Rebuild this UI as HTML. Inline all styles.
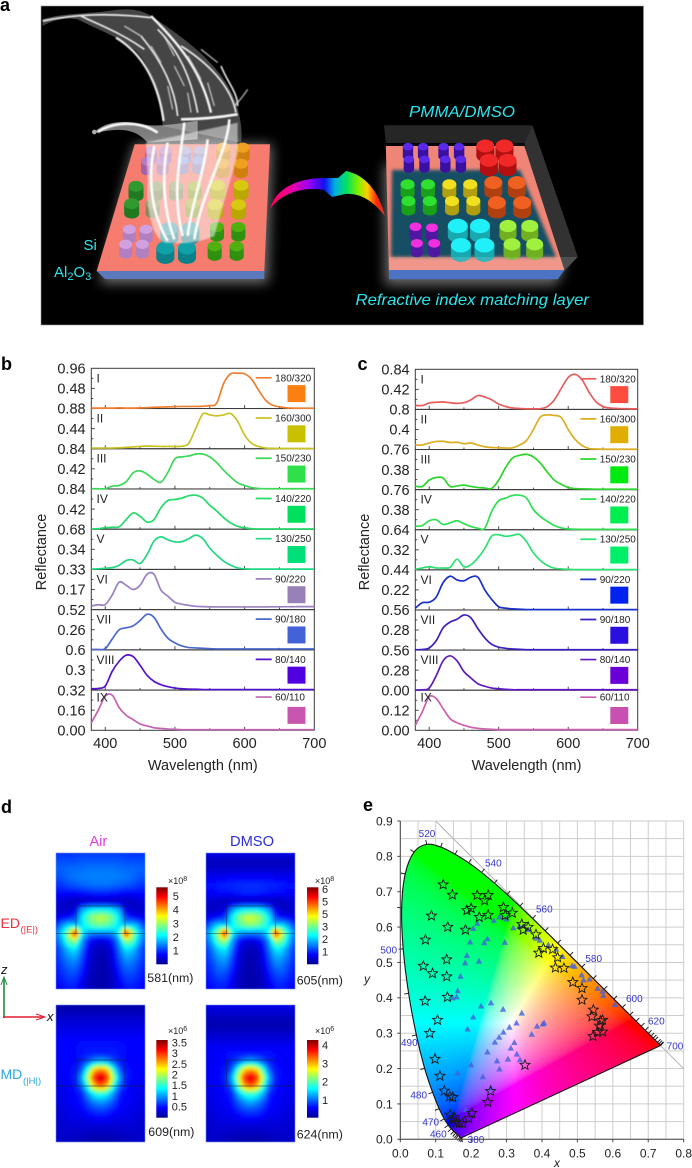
<!DOCTYPE html>
<html lang="en">
<head>
<meta charset="utf-8">
<title>Reflectance spectra, field maps and chromaticity diagram</title>
<style>
html,body{margin:0;padding:0;background:#fff;}
#figure{display:block;width:692px;height:1168px;font-family:"Liberation Sans",Arial,sans-serif;}
text{font-family:"Liberation Sans",Arial,sans-serif;}
</style>
</head>
<body>
<svg id="figure" xmlns="http://www.w3.org/2000/svg" width="692" height="1168" viewBox="0 0 692 1168">
<defs>
<filter id="blur2" x="-30%" y="-30%" width="160%" height="160%"><feGaussianBlur stdDeviation="2"/></filter>
<filter id="blur1" x="-30%" y="-30%" width="160%" height="160%"><feGaussianBlur stdDeviation="1.2"/></filter>
<filter id="blur6" x="-30%" y="-30%" width="160%" height="160%"><feGaussianBlur stdDeviation="6"/></filter>
<filter id="blurW" x="-30%" y="-30%" width="160%" height="160%"><feGaussianBlur stdDeviation="1.5"/></filter>
<filter id="heatBlur" x="-5%" y="-5%" width="110%" height="110%"><feGaussianBlur stdDeviation="1.6"/></filter>
<clipPath id="clipHeat1"><rect x="56" y="853" width="89" height="136"/></clipPath>
<clipPath id="clipHeat2"><rect x="206" y="853" width="89" height="136"/></clipPath>
<clipPath id="clipHeat3"><rect x="56" y="1005" width="89" height="137"/></clipPath>
<clipPath id="clipHeat4"><rect x="206" y="1005" width="89" height="137"/></clipPath>
<linearGradient id="arrowGrad" x1="270" y1="0" x2="386" y2="0" gradientUnits="userSpaceOnUse">
<stop offset="0" stop-color="#ff0050"/><stop offset=".18" stop-color="#f000a0"/><stop offset=".33" stop-color="#a000f0"/><stop offset=".47" stop-color="#1010f0"/><stop offset=".56" stop-color="#00b0e0"/><stop offset=".66" stop-color="#00e060"/><stop offset=".76" stop-color="#80f000"/><stop offset=".84" stop-color="#ffd000"/><stop offset=".92" stop-color="#ff2000"/><stop offset="1" stop-color="#c00000"/>
</linearGradient>
<linearGradient id="jetGrad" x1="0" y1="1" x2="0" y2="0">
<stop offset="0" stop-color="#00008f"/><stop offset=".125" stop-color="#0000ff"/><stop offset=".375" stop-color="#00ffff"/><stop offset=".625" stop-color="#ffff00"/><stop offset=".875" stop-color="#ff0000"/><stop offset="1" stop-color="#800000"/>
</linearGradient>
</defs>

<!-- PANEL A -->
<g id="panel-a">
<rect x="41" y="6" width="602.5" height="319" fill="#000" stroke="#999" stroke-width=".6"/>
<polygon points="134.7,144.3 272,144.3 268,283 100,283" fill="#fff" opacity=".45" filter="url(#blur6)"/>
<polygon points="134.7,144.3 270,144.3 264.3,271 96.7,271" fill="#f57c6e"/>
<polygon points="96.7,271 264.3,271 264.3,279 105,279" fill="#5d79bd"/>
<g id="left-pillars"></g>
<g transform="translate(41 6) scale(.33333)">
<path d="M5 40C60 22 120 25 200 15C260 5 300 10 330 30C420 90 540 170 585 290C600 340 605 380 600 410L365 360C360 280 340 200 290 140C250 100 180 75 110 40C70 32 30 45 5 60Z" fill="#8a8a8a" opacity=".5"/>
<path d="M160 378C190 350 240 340 300 355C360 365 420 350 470 345L470 400L320 410C290 375 250 360 160 382Z" fill="#c0c0c0" opacity=".65"/>
<path d="M315 410L590 350L590 440C570 520 540 620 520 690C480 710 420 715 370 710C330 690 315 600 320 520Z" fill="#fff" opacity=".5" filter="url(#blur2)"/>
<path d="M330 30C410 110 480 190 510 320" fill="none" stroke="#fff" stroke-width="7" opacity=".95" filter="url(#blur1)"/>
<path d="M225 95C300 140 350 220 368 345" fill="none" stroke="#fff" stroke-width="7" opacity=".9" filter="url(#blur1)"/>
<path d="M420 120C500 170 570 240 585 320M5 45C100 25 200 20 330 35M120 30C170 55 240 80 310 130M350 70C410 130 450 210 470 320M300 90C350 150 400 230 410 330M540 180C560 230 590 260 590 300" fill="none" stroke="#fff" stroke-width="5" opacity=".9" filter="url(#blur1)"/>
<path d="M420 340C500 340 560 330 590 325M170 378C220 345 300 345 350 380M430 350C420 450 390 560 425 690M565 340C560 440 480 560 460 700M340 420C320 520 330 620 380 705M500 400C490 500 450 600 440 690M380 410C360 520 370 620 400 700" fill="none" stroke="#fff" stroke-width="8" opacity=".95" filter="url(#blur1)"/>
<path d="M250 60L300 90M330 120L360 170M370 90L400 150M400 180L430 240M440 150L480 220M480 130L530 170M380 240L395 310M440 260L450 320M500 230L520 300M620 250C600 280 590 290 580 300" fill="none" stroke="#ddd" stroke-width="4" opacity=".8" filter="url(#blur1)"/>
<circle cx="160" cy="378" r="7" fill="#aaa"/>
</g>
<path d="M270 209C275 190 295 178 325 178L338 178L346 171C365 175 378 190 385 216C372 200 360 193 345 194L332 197L324 190C300 186 280 195 270 209Z" fill="url(#arrowGrad)"/>
<polygon points="384,165 524,150 564,270 555,285 385,285" fill="#fff" opacity=".42" filter="url(#blur6)"/>
<polygon points="384,125.3 532.4,125.3 524.4,143 385.8,143" fill="#262626"/>
<polygon points="532.4,125.3 577.8,256.7 557.8,279.3 524.4,143" fill="#323232"/>
<polygon points="385.8,146 524.4,146 564.4,270 388.9,270" fill="#ee8577"/>
<polygon points="392,170 520,170 556,257 391,257" fill="#155063" filter="url(#blurW)"/>
<polygon points="388.9,270 564.4,270 557.8,279.3 388.9,279.3" fill="#4d74c4"/>
<g id="right-pillars"></g>
<polygon points="389,257 577.8,257 564,270 389,270" fill="#fff" opacity=".14"/>
<text x="409" y="117" font-size="15.6" font-style="italic" fill="#2ce6ee" textLength="106" lengthAdjust="spacingAndGlyphs">PMMA/DMSO</text>
<text x="355.5" y="305" font-size="16" font-style="italic" fill="#2ce6ee" textLength="233.5" lengthAdjust="spacingAndGlyphs">Refractive index matching layer</text>
<text x="83.5" y="250" font-size="15" fill="#2ce6ee">Si</text>
<text x="54" y="277" font-size="15" fill="#2ce6ee">Al<tspan font-size="11" dy="3">2</tspan><tspan dy="-3">O</tspan><tspan font-size="11" dy="3">3</tspan></text>
</g>

<text x="0" y="11" font-size="18" font-weight="bold" fill="#000">a</text>
<text x="1" y="370" font-size="18" font-weight="bold" fill="#000">b</text>
<text x="357.5" y="370" font-size="18" font-weight="bold" fill="#000">c</text>
<text x="1" y="813" font-size="18" font-weight="bold" fill="#000">d</text>
<text x="363" y="811" font-size="18" font-weight="bold" fill="#000">e</text>

<g id="panel-b"></g>
<g id="panel-c"></g>

<!-- PANEL D -->
<g id="panel-d">
<text x="98.3" y="846" font-size="14.7" text-anchor="middle" fill="#e23fe0">Air</text>
<text x="252" y="846" font-size="14.7" text-anchor="middle" fill="#2d2dd6">DMSO</text>
<text x="0.5" y="928" font-size="14" fill="#e8323c">ED</text>
<text x="20.5" y="932.5" font-size="9.5" fill="#e8323c">(|E|)</text>
<text x="0.5" y="1079" font-size="14" fill="#2ba6e0">MD</text>
<text x="23" y="1084" font-size="9.5" fill="#2ba6e0">(|H|)</text>
<line x1="4" y1="1018" x2="4" y2="979" stroke="#1f8a3a" stroke-width="1.6"/>
<path d="M1 985L4 977L7 985" fill="none" stroke="#1f8a3a" stroke-width="1"/>
<line x1="3" y1="1017" x2="43" y2="1017" stroke="#e01f30" stroke-width="1.6"/>
<path d="M36 1014L45 1017L36 1020" fill="none" stroke="#e01f30" stroke-width="1"/>
<text x="1" y="974" font-size="13" font-style="italic" fill="#111">z</text>
<text x="47" y="1021" font-size="13" font-style="italic" fill="#111">x</text>
<g id="heatmaps"></g>
<g id="heat-overlays"></g>
<rect x="156.3" y="887.3" width="11.4" height="77" fill="url(#jetGrad)"/>
<rect x="307" y="887.3" width="11.4" height="77" fill="url(#jetGrad)"/>
<rect x="156.3" y="1040" width="11.4" height="77.7" fill="url(#jetGrad)"/>
<rect x="307" y="1040" width="11.4" height="77.7" fill="url(#jetGrad)"/>
<text x="168" y="884" font-size="9" fill="#222">×10<tspan font-size="7" dy="-3">8</tspan></text>
<text x="315" y="884" font-size="9" fill="#222">×10<tspan font-size="7" dy="-3">8</tspan></text>
<text x="168" y="1034" font-size="9" fill="#222">×10<tspan font-size="7" dy="-3">6</tspan></text>
<text x="315" y="1034" font-size="9" fill="#222">×10<tspan font-size="7" dy="-3">6</tspan></text>
<g id="colorbar-ticks"></g>
<text x="147.3" y="982" font-size="12.4" fill="#222">581(nm)</text>
<text x="296.7" y="984.3" font-size="12.4" fill="#222">605(nm)</text>
<text x="148.3" y="1136" font-size="12.4" fill="#222">609(nm)</text>
<text x="296.7" y="1138.6" font-size="12.4" fill="#222">624(nm)</text>
</g>

<!-- PANEL E -->
<g id="panel-e">
<g id="cie-grid"></g>
<foreignObject x="400" y="820" width="284" height="322"><canvas id="cie-canvas" width="284" height="322" style="display:block"></canvas></foreignObject>
<g id="cie-top"></g>
</g>
</svg>

<script>
// ---------- spectra data (reflectance per wavelength) ----------
const wavelengths = [380,390,400,410,420,430,440,450,460,470,480,490,500,510,520,530,540,550,560,570,580,590,600,610,620,630,640,650,660,670,680,690,700];
const legendLabels = ['180/320','160/300','150/230','140/220','130/250','90/220','90/180','80/140','60/110'];
const romanLabels = ['I','II','III','IV','V','VI','VII','VIII','IX'];
const xTickLabels = [400,500,600,700];

const airPanelMax = [0.96,0.88,0.84,0.84,0.68,0.33,0.52,0.60,0.32];
const airTickLabels = ['0.96','0.48','0.88','0.44','0.84','0.42','0.84','0.42','0.68','0.34','0.33','0.17','0.52','0.26','0.6','0.3','0.32','0.16','0.00'];
const airI    = [.01,.01,.01,.01,.015,.01,.01,.015,.02,.03,.035,.04,.045,.05,.05,.05,.055,.07,.13,.6,.83,.84,.83,.7,.44,.2,.08,.04,.015,.01,.008,.008,.008];
const airII   = [.015,.015,.015,.015,.02,.03,.04,.05,.06,.055,.05,.05,.05,.055,.12,.45,.76,.74,.72,.74,.77,.6,.3,.12,.05,.015,.01,.005,.005,.005,.005,.005,.005];
const airIII  = [.005,.005,.005,.06,.075,.15,.336,.378,.31,.2,.14,.35,.63,.67,.69,.73,.73,.67,.55,.39,.25,.13,.07,.03,.01,.005,.005,.005,.005,.005,.005,.005,.005];
const airIV   = [.005,.01,.03,.04,.05,.2,.34,.27,.15,.2,.45,.6,.62,.65,.7,.71,.65,.5,.38,.24,.13,.06,.03,.01,.005,.005,.005,.005,.005,.005,.005,.005,.005];
const airV    = [.005,.01,.02,.03,.07,.15,.16,.1,.25,.48,.55,.5,.465,.47,.52,.58,.52,.36,.24,.14,.07,.025,.01,.005,.005,.005,.005,.005,.005,.005,.005,.005,.005];
const airVI   = [.03,.04,.042,.12,.225,.2,.165,.2,.29,.29,.16,.11,.06,.045,.035,.027,.025,.023,.022,.022,.022,.022,.022,.022,.022,.022,.023,.023,.024,.024,.025,.025,.025];
const airVII  = [.005,.005,.015,.14,.26,.285,.31,.38,.46,.42,.27,.15,.09,.05,.03,.025,.02,.015,.012,.012,.012,.012,.012,.012,.012,.012,.012,.012,.012,.012,.012,.012,.012];
const airVIII = [.02,.025,.06,.28,.43,.52,.5,.37,.22,.13,.08,.05,.03,.02,.015,.012,.008,.008,.008,.008,.008,.008,.008,.008,.008,.008,.008,.008,.008,.008,.008,.008,.008];
const airIX   = [.06,.16,.27,.28,.18,.12,.085,.05,.035,.02,.015,.01,.008,.005,.005,.005,.005,.005,.005,.005,.005,.005,.005,.005,.005,.005,.005,.005,.005,.005,.005,.005,.005];

const dmsoPanelMax = [0.84,0.80,0.76,0.76,0.64,0.44,0.56,0.56,0.24];
const dmsoTickLabels = ['0.84','0.42','0.8','0.4','0.76','0.38','0.76','0.38','0.64','0.32','0.44','0.22','0.56','0.28','0.56','0.28','0.00','0.12','0.00'];
const dmsoI    = [.085,.08,.135,.15,.155,.14,.125,.14,.2,.29,.26,.2,.11,.06,.03,.02,.012,.012,.015,.06,.2,.44,.67,.735,.62,.36,.16,.06,.03,.02,.015,.012,.012];
const dmsoII   = [.09,.09,.13,.16,.165,.14,.145,.115,.13,.09,.055,.04,.035,.03,.035,.09,.18,.4,.65,.69,.68,.64,.4,.2,.08,.02,.01,.005,.005,.005,.005,.005,.005];
const dmsoIII  = [.065,.06,.18,.23,.22,.06,.07,.085,.06,.04,.03,.025,.18,.42,.6,.65,.67,.62,.5,.33,.18,.1,.04,.02,.015,.012,.008,.008,.008,.008,.008,.008,.008];
const dmsoIV   = [.065,.08,.17,.19,.1,.13,.17,.115,.06,.03,.03,.35,.55,.6,.65,.655,.6,.38,.25,.16,.08,.035,.015,.01,.008,.008,.008,.008,.008,.008,.008,.008,.008];
const dmsoV    = [.01,.03,.05,.03,.03,.04,.17,.05,.08,.19,.34,.54,.56,.535,.55,.565,.45,.27,.15,.07,.027,.015,.008,.005,.005,.005,.005,.005,.005,.005,.005,.005,.005];
const dmsoVI   = [.02,.08,.085,.14,.3,.37,.33,.32,.36,.36,.22,.115,.035,.02,.012,.008,.004,.004,.004,.004,.004,.004,.004,.004,.004,.004,.004,.004,.004,.004,.004,.004,.004];
const dmsoVII  = [.005,.008,.03,.13,.31,.39,.43,.49,.45,.3,.17,.08,.04,.025,.015,.01,.005,.005,.005,.005,.005,.005,.005,.005,.005,.005,.005,.005,.005,.005,.005,.005,.005];
const dmsoVIII = [.003,.005,.03,.2,.41,.48,.41,.26,.17,.09,.055,.03,.02,.012,.006,.006,.006,.006,.006,.006,.006,.006,.006,.006,.006,.006,.006,.006,.006,.006,.006,.006,.006];
const dmsoIX   = [.03,.11,.2,.19,.13,.07,.045,.03,.018,.012,.008,.006,.004,.004,.004,.004,.004,.004,.004,.004,.004,.004,.004,.004,.004,.004,.004,.004,.004,.004,.004,.004,.004];

const airColors  = ['#ee7f30','#c8c224','#3cd85a','#25d96a','#1fd982','#9a80bf','#4b68cc','#5312cf','#c262b0'];
const airSwatch  = ['#fc7f12','#c8c000','#2ee14b','#00e05d','#00e079','#9880b8','#4462d8','#5000e0','#c855b0'];
const dmsoColors = ['#e85c5c','#dcae22','#2cd42c','#2ce052','#2ce072','#1a30c8','#3a20c0','#6018c0','#cc60b0'];
const dmsoSwatch = ['#ff4c40','#dfae00','#00ea10','#00ee50','#00ee68','#0022ee','#2a10e0','#6a00d8','#c850b0'];

// ---------- field maps: half-width grids, edge to centre, top to bottom ----------
const fieldEdAir = [
[.17,.17,.17,.18,.18,.18,.18,.18],[.2,.2,.2,.2,.21,.21,.21,.21],[.22,.22,.23,.23,.23,.24,.24,.24],[.2,.21,.23,.24,.25,.25,.25,.25],
[.17,.18,.2,.21,.22,.23,.24,.24],[.13,.13,.13,.13,.14,.15,.16,.16],[.09,.08,.06,.05,.05,.05,.05,.05],[.07,.06,.06,.09,.27,.33,.36,.36],
[.09,.11,.13,.18,.35,.47,.54,.57],[.17,.27,.33,.3,.34,.42,.47,.49],[.24,.36,.55,.95,.4,.28,.26,.26],[.2,.31,.47,.52,.3,.16,.1,.08],
[.17,.24,.33,.36,.25,.12,.06,.05],[.16,.22,.27,.29,.21,.1,.05,.04],[.15,.19,.23,.24,.18,.09,.05,.03],[.14,.17,.2,.2,.15,.07,.04,.03],
[.13,.15,.17,.17,.12,.06,.04,.03],[.12,.13,.15,.14,.1,.06,.04,.03]];
const fieldEdDmso = [
[.1,.1,.1,.1,.1,.1,.1,.1],[.05,.05,.05,.05,.05,.05,.05,.05],[.07,.07,.07,.07,.07,.07,.07,.07],[.11,.11,.11,.11,.12,.12,.12,.12],
[.14,.14,.15,.16,.16,.17,.17,.17],[.12,.12,.13,.13,.14,.15,.16,.16],[.08,.07,.06,.05,.05,.05,.05,.05],[.07,.06,.06,.09,.25,.32,.36,.36],
[.09,.11,.13,.18,.36,.48,.56,.59],[.17,.27,.34,.31,.35,.44,.49,.52],[.24,.37,.56,.95,.41,.29,.26,.26],[.2,.32,.48,.53,.3,.16,.1,.08],
[.17,.25,.34,.37,.25,.12,.06,.05],[.16,.22,.28,.3,.21,.1,.05,.04],[.15,.19,.24,.25,.18,.09,.05,.03],[.14,.17,.21,.2,.15,.07,.04,.03],
[.13,.15,.17,.17,.12,.06,.04,.03],[.12,.13,.15,.14,.1,.06,.04,.03]];
const fieldMdAir = [
[.03,.03,.03,.03,.03,.03,.03,.03],[.05,.05,.05,.05,.05,.05,.05,.05],[.08,.08,.08,.08,.08,.08,.08,.08],[.1,.1,.1,.1,.1,.1,.1,.1],
[.12,.12,.12,.12,.12,.12,.12,.12],[.13,.13,.13,.13,.14,.14,.14,.14],[.13,.13,.13,.13,.14,.15,.15,.15],[.12,.12,.12,.13,.15,.2,.27,.3],
[.12,.12,.13,.14,.2,.42,.68,.75],[.11,.12,.13,.15,.28,.55,.85,.95],[.11,.11,.12,.14,.22,.42,.7,.8],[.1,.1,.11,.13,.15,.28,.38,.42],
[.09,.1,.11,.12,.14,.2,.26,.28],[.08,.09,.1,.11,.12,.15,.18,.19],[.07,.08,.09,.1,.1,.11,.12,.13],[.07,.07,.08,.08,.08,.08,.08,.08],
[.07,.07,.07,.06,.06,.05,.05,.05],[.07,.06,.06,.05,.05,.04,.03,.03]];
const fieldMdDmso = [
[.1,.1,.1,.1,.1,.1,.1,.1],[.07,.07,.07,.07,.07,.07,.07,.07],[.04,.04,.04,.04,.04,.04,.04,.04],[.05,.05,.05,.05,.05,.05,.05,.05],
[.08,.08,.08,.08,.08,.08,.08,.08],[.11,.11,.11,.11,.11,.11,.11,.11],[.12,.12,.12,.13,.14,.14,.14,.14],[.11,.11,.12,.13,.15,.2,.26,.3],
[.11,.11,.13,.14,.2,.42,.66,.72],[.11,.12,.13,.15,.28,.55,.84,.93],[.1,.11,.12,.14,.22,.44,.72,.8],[.1,.1,.11,.13,.15,.3,.4,.44],
[.09,.1,.11,.12,.14,.21,.27,.3],[.08,.09,.1,.11,.12,.16,.19,.2],[.07,.08,.09,.1,.1,.11,.13,.13],[.07,.07,.08,.08,.08,.08,.08,.08],
[.07,.07,.07,.06,.06,.05,.05,.05],[.07,.06,.06,.05,.05,.04,.03,.03]];
const colorbarEdAirLabels  = ['5','4','3','2','1'];
const colorbarEdDmsoLabels = ['6','5','5','3','2','1'];
const colorbarMdAirLabels  = ['3.5','3','2.5','2','1.5','1','0.5'];
const colorbarMdDmsoLabels = ['4','3','2','1'];

// ---------- CIE chart data ----------
const locusX = [.1741,.1733,.1726,.1714,.1689,.1644,.1611,.1566,.1510,.1440,.1355,.1241,.1096,.0913,.0687,.0454,.0235,.0082,.0039,.0139,.0389,.0743,.1142,.1547,.1929,.2296,.2658,.3016,.3373,.3731,.4087,.4441,.4788,.5125,.5448,.5752,.6029,.6270,.6482,.6658,.6801,.6915,.7006,.7079,.7140,.7190,.7260,.7300,.7334,.7347,.7347];
const locusY = [.0050,.0048,.0048,.0051,.0069,.0109,.0138,.0177,.0227,.0297,.0399,.0578,.0868,.1327,.2007,.2950,.4127,.5384,.6548,.7502,.8120,.8338,.8262,.8059,.7816,.7543,.7243,.6923,.6589,.6245,.5896,.5547,.5202,.4866,.4544,.4242,.3965,.3725,.3514,.3340,.3197,.3083,.2993,.2920,.2859,.2809,.2740,.2700,.2666,.2653,.2653];
const starX = [.121,.147,.088,.134,.071,.065,.131,.091,.131,.133,.07,.105,.083,.098,.112,.124,.14,.148,.141,.152,.148,.157,.167,.176,.193,.202,.247,.255,.352,.188,.2,.217,.238,.248,.223,.248,.184,.291,.296,.316,.343,.347,.361,.383,.391,.404,.43,.444,.438,.462,.487,.513,.513,.545,.541,.571,.565,.562,.557,.571,.544];
const starY = [.72,.691,.632,.6,.564,.49,.508,.469,.46,.402,.391,.337,.3,.227,.179,.137,.121,.119,.069,.062,.055,.047,.045,.045,.059,.074,.105,.136,.21,.647,.653,.69,.675,.69,.628,.634,.592,.656,.633,.64,.608,.592,.6,.579,.527,.54,.537,.514,.485,.484,.444,.427,.394,.366,.347,.337,.335,.321,.303,.304,.291];
const triangleX = [.206,.217,.264,.28,.299,.319,.336,.361,.197,.237,.246,.295,.188,.183,.222,.17,.162,.159,.148,.228,.256,.29,.343,.206,.19,.328,.308,.291,.279,.267,.406,.402,.386,.371,.322,.312,.246,.273,.304,.329,.338,.2,.28,.233,.162,.256,.185,.383,.394,.418,.44,.458,.485,.492,.512,.517,.534,.557,.571,.573,.606];
const triangleY = [.595,.61,.618,.628,.622,.597,.601,.592,.557,.555,.566,.556,.519,.498,.503,.46,.419,.402,.399,.376,.385,.367,.356,.345,.311,.328,.316,.302,.288,.274,.328,.325,.319,.296,.273,.257,.246,.221,.226,.24,.224,.21,.198,.176,.187,.144,.083,.568,.562,.549,.537,.516,.49,.488,.464,.45,.452,.426,.418,.406,.38];
const cieXTicks = ['0.0','0.1','0.2','0.3','0.4','0.5','0.6','0.7','0.8'];
const cieYTicks = ['0.0','0.1','0.2','0.3','0.4','0.5','0.6','0.7','0.8','0.9'];
const wavelengthNames = ['520','540','560','580','600','620','700','500','490','480','470','460','380'];

// ---------- helpers ----------
const NS = 'http://www.w3.org/2000/svg';
function mk(tag, parent, attrs) {
  const e = document.createElementNS(NS, tag);
  for (const k in attrs) e.setAttribute(k, attrs[k]);
  parent.appendChild(e);
  return e;
}
function label(parent, x, y, str, size, anchor, fill) {
  const t = mk('text', parent, {x: x, y: y, 'font-size': size, 'text-anchor': anchor, fill: fill});
  t.textContent = str;
  return t;
}
function smoothPath(xs, ys) {
  let d = 'M' + xs[0].toFixed(2) + ' ' + ys[0].toFixed(2);
  for (let i = 0; i < xs.length - 1; i++) {
    const a = Math.max(i - 1, 0), b = Math.min(i + 2, xs.length - 1);
    const c1x = xs[i] + (xs[i + 1] - xs[a]) / 6, c1y = ys[i] + (ys[i + 1] - ys[a]) / 6;
    const c2x = xs[i + 1] - (xs[b] - xs[i]) / 6, c2y = ys[i + 1] - (ys[b] - ys[i]) / 6;
    d += 'C' + c1x.toFixed(2) + ' ' + c1y.toFixed(2) + ' ' + c2x.toFixed(2) + ' ' + c2y.toFixed(2) + ' ' + xs[i + 1].toFixed(2) + ' ' + ys[i + 1].toFixed(2);
  }
  return d;
}

// ---------- illustration pillars ----------
function pillar(parent, x, y, rx, col, dark, op) {
  const g = mk('g', parent, {opacity: op});
  
  
  mk('rect', g, {x: x - rx, y: y - 4, width: 2 * rx, height: 10, fill: dark});
  mk('ellipse', g, {cx: x, cy: y + 6, rx: rx, ry: rx * .65, fill: dark});
  mk('ellipse', g, {cx: x, cy: y - 4, rx: rx, ry: rx * .72, fill: col});
}
const leftGroup = document.getElementById('left-pillars');
const leftSets = [
 [[[330,445],[373,445],[318,478],[365,478]], 6, '#a878d8', '#8858b8', .75],
 [[[432,445],[475,445],[425,475],[472,475]], 6, '#9ab0f0', '#7088d0', .75],
 [[[547,437],[605,437],[545,485],[600,485]], 7, '#f0a020', '#d08010', 1],
 [[[285,553],[272,605]], 7.5, '#2f9a30', '#1f7a22', 1],
 [[[345,553],[335,605],[405,553]], 7, '#58b060', '#3f9048', .6],
 [[[462,552],[455,605]], 7, '#a0c030', '#80a020', .85],
 [[[530,550],[600,550],[523,608],[593,608]], 7.5, '#d8c810', '#b8a800', 1],
 [[[265,682],[315,682],[254,727],[304,727]], 6.5, '#d0a0e0', '#b080c0', 1],
 [[[385,680],[448,680]], 9, '#30a8b0', '#1a8890', .9],
 [[[373,738],[438,738]], 9, '#10a0a8', '#0a8088', 1],
 [[[528,675],[592,675],[521,733],[587,733]], 7, '#50b010', '#309010', 1]
];
leftSets.forEach(function (s) {
  s[0].forEach(function (p) { pillar(leftGroup, 41 + p[0] / 3, 6 + p[1] / 3, s[1], s[2], s[3], s[4]); });
});
const rightGroup = document.getElementById('right-pillars');
const rightSets = [
 [[[918,452],[952,452],[998,452],[1033,452],[920,490],[955,490],[1002,490],[1037,490]], 5.2, '#5a28e8', '#3a10a0'],
 [[[1092,450],[1135,450],[1100,493],[1142,493]], 9, '#f02828', '#b01010'],
 [[[917,565],[963,565],[919,615],[967,615]], 7, '#30e030', '#18a018'],
 [[[1011,565],[1058,565],[1017,615],[1065,615]], 7, '#f0e020', '#b0a010'],
 [[[1110,560],[1163,560],[1118,620],[1175,620]], 9, '#f06020', '#b04010'],
 [[[935,692],[972,695],[938,742],[977,742]], 6, '#f030e0', '#5018a0'],
 [[[1030,690],[1080,690],[1037,748],[1090,748]], 10, '#20f0f8', '#18a8b0'],
 [[[1143,690],[1192,690],[1152,745],[1203,745]], 8.5, '#a0f040', '#70b020']
];
rightSets.forEach(function (s) {
  s[0].forEach(function (p) { pillar(rightGroup, p[0] / 2.25, p[1] / 3, s[1], s[2], s[3], 1); });
});

// ---------- stacked spectra ----------
function drawSpectra(root, opts) {
  const xScale = function (nm) { return opts.left + (nm - 380) * (opts.right - opts.left) / 320; };
  const h = (730.3 - opts.top) / 9;
  const panelTop = function (i) { return opts.top + i * h; };
  const yScale = function (v, i) { return panelTop(i + 1) - v / opts.max[i] * h; };
  const frameColor = '#3a3a3a';

  for (let i = 0; i < 9; i++) {
    const top = panelTop(i), bottom = panelTop(i + 1);
    const frame = mk('rect', root, {x: opts.left, y: top, width: opts.right - opts.left, height: h, fill: 'none', stroke: frameColor, 'stroke-width': 1});
    
    
    for (let nm = 400; nm <= 650; nm += 50) {
      const major = nm % 100 === 0;
      const tick = mk('line', root, {x1: xScale(nm), x2: xScale(nm), y1: bottom, y2: bottom - (major ? 3.5 : 2), stroke: frameColor, 'stroke-width': .9});
      
      
    }
    for (let q = 1; q < 4; q++) {
      const major = q === 2;
      const tick = mk('line', root, {x1: opts.left, x2: opts.left + (major ? 3.5 : 2), y1: top + q * h / 4, y2: top + q * h / 4, stroke: frameColor, 'stroke-width': .9});
      
      
    }
  }
  opts.ticks.forEach(function (str, k) {
    const t = label(root, opts.left - 5.7, opts.top + k * h / 2 + 5.2, str, 14.5, 'end', '#222');
    
    
  });
  xTickLabels.forEach(function (nm) {
    const t = label(root, xScale(nm), 748, String(nm), 14.5, 'middle', '#222');
    
    
  });
  const xt = label(root, xScale(540), 770, 'Wavelength (nm)', 14.5, 'middle', '#222');
  
  
  const yt = label(root, 0, 0, 'Reflectance', 14.5, 'middle', '#222');
  yt.setAttribute('transform', 'translate(' + opts.ytx + ' 552) rotate(-90)');
  
  

  opts.series.forEach(function (vals, i) {
    const top = panelTop(i);
    const dy = i === 8 ? -2.5 : 0;
    const xs = wavelengths.map(xScale);
    const ys = vals.map(function (v) { return yScale(v, i); });
    const curve = mk('path', root, {d: smoothPath(xs, ys), fill: 'none', stroke: opts.colors[i], 'stroke-width': 1.7});
    
    
    const rom = label(root, opts.left + 5.2, top + 14 + dy, romanLabels[i], 12, 'start', '#222');
    
    
    const ln = mk('line', root, {x1: opts.legX, x2: opts.legX + 16, y1: top + 9.5 + dy, y2: top + 9.5 + dy, stroke: opts.colors[i], 'stroke-width': 1.7});
    
    
    const lt = label(root, opts.legX + 19.4, top + 13 + dy, legendLabels[i], 10, 'start', '#222');
    
    
    const sw = mk('rect', root, {x: opts.swX, y: top + 16.8, width: 18, height: 17, fill: opts.swatch[i]});
    
    
  });
}
drawSpectra(document.getElementById('panel-b'), {left: 91.3, right: 314.3, top: 368.3, max: airPanelMax, ticks: airTickLabels,
  series: [airI, airII, airIII, airIV, airV, airVI, airVII, airVIII, airIX], colors: airColors, swatch: airSwatch, legX: 255.7, swX: 287.5, ytx: 46});
drawSpectra(document.getElementById('panel-c'), {left: 415.3, right: 637.7, top: 369.3, max: dmsoPanelMax, ticks: dmsoTickLabels,
  series: [dmsoI, dmsoII, dmsoIII, dmsoIV, dmsoV, dmsoVI, dmsoVII, dmsoVIII, dmsoIX], colors: dmsoColors, swatch: dmsoSwatch, legX: 580.3, swX: 610.3, ytx: 369});

// ---------- heat maps ----------
function jet(v) {
  const s = [[0,0,0,143],[.125,0,0,255],[.375,0,255,255],[.625,255,255,0],[.875,255,0,0],[1,128,0,0]];
  v = Math.max(0, Math.min(1, v));
  for (let i = 0; i < 5; i++) {
    if (v <= s[i + 1][0]) {
      const t = (v - s[i][0]) / (s[i + 1][0] - s[i][0]);
      return 'rgb(' + [1, 2, 3].map(function (c) { return Math.round(s[i][c] + t * (s[i + 1][c] - s[i][c])); }).join(',') + ')';
    }
  }
  return 'rgb(128,0,0)';
}
function sampleField(grid, u, w) {
  const cols = 14;
  u = Math.max(0, Math.min(1, u));
  w = Math.max(0, Math.min(1, w));
  let cx = u * cols;
  if (cx > 7) cx = cols - cx;
  const ry = w * (grid.length - 1);
  const i = Math.min(Math.floor(ry), grid.length - 2), j = Math.min(Math.floor(cx), 6);
  const fy = ry - i, fx = cx - j;
  return (grid[i][j] * (1 - fx) + grid[i][j + 1] * fx) * (1 - fy) + (grid[i + 1][j] * (1 - fx) + grid[i + 1][j + 1] * fx) * fy;
}
function drawHeat(clipId, x0, y0, w, h, grid, pillarLeft, pillarRight, pillarTop, interfaceY) {
  const outer = mk('g', document.getElementById('heatmaps'), {'clip-path': 'url(#' + clipId + ')'});
  
  
  const root = mk('g', outer, {filter: 'url(#heatBlur)', 'shape-rendering': 'crispEdges'});
  const size = 2, pad = 6;
  for (let py = -pad; py < h + pad; py += size) {
    for (let px = -pad; px < w + pad; px += size) {
      const v = sampleField(grid, (px + 1) / w, (py + 1) / h);
      const cell = mk('rect', root, {x: x0 + px, y: y0 + py, width: size, height: size, fill: jet(v)});
      
      
    }
  }
  const over = document.getElementById('heat-overlays');
  const border = mk('rect', over, {x: x0, y: y0, width: w, height: h, fill: 'none', stroke: '#6f8cf0', 'stroke-width': .6});
  
  
  const line = mk('path', over, {d: 'M' + x0 + ' ' + interfaceY + 'H' + (x0 + w) + 'M' + pillarLeft + ' ' + interfaceY + 'V' + pillarTop + 'H' + pillarRight + 'V' + interfaceY, fill: 'none', stroke: '#123', 'stroke-width': .7, opacity: .7});
  
  
}
drawHeat('clipHeat1', 56, 853, 89, 136, fieldEdAir, 76, 125, 906, 933.7);
drawHeat('clipHeat2', 206, 853, 89, 136, fieldEdDmso, 226.7, 275.3, 906, 933.7);
drawHeat('clipHeat3', 56, 1005, 89, 137, fieldMdAir, 76, 125, 1060, 1086);
drawHeat('clipHeat4', 206, 1005, 89, 137, fieldMdDmso, 226.7, 275.3, 1060, 1086);

function colorbarLabels(labels, x, yStart, yEnd) {
  const root = document.getElementById('colorbar-ticks');
  labels.forEach(function (str, i) {
    const y = yStart + i * (yEnd - yStart) / (labels.length - 1);
    const t = label(root, x, y + 4, str, 11, 'start', '#222');
    
    
  });
}
colorbarLabels(colorbarEdAirLabels, 172.7, 896, 950.7);
colorbarLabels(colorbarEdDmsoLabels, 322, 889, 951.7);
colorbarLabels(colorbarMdAirLabels, 171.7, 1042.3, 1106.7);
colorbarLabels(colorbarMdDmsoLabels, 322, 1045, 1100);

// ---------- CIE diagram ----------
const cieX = function (x) { return 400.3 + x * 354.2; };
const cieY = function (y) { return 1139.3 - y * 353.7; };
(function () {
  const grid = document.getElementById('cie-grid');
  for (let k = 0; k <= 16; k++) {
    const x = cieX(k * .05);
    const ln = mk('line', grid, {x1: x, x2: x, y1: cieY(.9), y2: cieY(0), stroke: '#cdcdcd', 'stroke-width': 1});
    
    
  }
  for (let k = 0; k <= 18; k++) {
    const y = cieY(k * .05);
    const ln = mk('line', grid, {x1: cieX(0), x2: cieX(.8), y1: y, y2: y, stroke: '#cdcdcd', 'stroke-width': 1});
    
    
  }
  const diag = mk('line', grid, {x1: cieX(.1), y1: cieY(.9), x2: cieX(.8), y2: cieY(.2), stroke: '#b4b4b4', 'stroke-width': 1});
  
  
  const locusD = smoothPath(locusX.map(cieX), locusY.map(cieY)) + 'Z';
  // colour fill
  const cv = document.getElementById('cie-canvas');
  const ctx = cv.getContext('2d');
  const off = document.createElement('canvas');
  off.width = cv.width; off.height = cv.height;
  const octx = off.getContext('2d');
  const img = octx.createImageData(cv.width, cv.height);
  const gamma = function (c) { return Math.round(255 * (c <= .0031308 ? 12.92 * c : 1.055 * Math.pow(c, 1 / 2.4) - .055)); };
  for (let py = 0; py < cv.height; py++) {
    for (let px = 0; px < cv.width; px++) {
      const x = (px + 400.5 - 400.3) / 354.2, y = (1139.3 - (py + 820.5)) / 353.7;
      const Y = Math.max(y, .001), X = x, Z = 1 - x - y;
      let r = 3.2406 * X - 1.5372 * Y - .4986 * Z, g = -.9689 * X + 1.8758 * Y + .0415 * Z, b = .0557 * X - .204 * Y + 1.057 * Z;
      r = Math.max(r, 0); g = Math.max(g, 0); b = Math.max(b, 0);
      const m = Math.max(r, g, b, .001);
      const o = (py * cv.width + px) * 4;
      img.data[o] = gamma(r / m); img.data[o + 1] = gamma(g / m); img.data[o + 2] = gamma(b / m); img.data[o + 3] = 255;
    }
  }
  octx.putImageData(img, 0, 0);
  ctx.translate(-400, -820);
  ctx.clip(new Path2D(locusD));
  ctx.drawImage(off, 400, 820);

  const top = document.getElementById('cie-top');
  const outline = mk('path', top, {d: locusD, fill: 'none', stroke: '#111', 'stroke-width': 1.1});
  
  
  locusX.forEach(function (lx, i) {
    if (i === 0 || i === locusX.length - 1) return;
    const tx = cieX(locusX[i + 1]) - cieX(locusX[i - 1]), ty = cieY(locusY[i + 1]) - cieY(locusY[i - 1]);
    const len = Math.hypot(tx, ty) || 1;
    let nx = ty / len, ny = -tx / len;
    const px = cieX(lx), py = cieY(locusY[i]);
    if ((px - cieX(.33)) * nx + (py - cieY(.33)) * ny < 0) { nx = -nx; ny = -ny; }
    const tick = mk('line', top, {x1: px, y1: py, x2: px + nx * 4.5, y2: py + ny * 4.5, stroke: '#111', 'stroke-width': .9});
    
    
  });
  // triangles
  triangleX.forEach(function (tx, i) {
    const px = cieX(tx), py = cieY(triangleY[i]);
    const tri = mk('path', top, {d: 'M' + px + ' ' + (py - 3.6) + 'L' + (px + 3.2) + ' ' + (py + 2.2) + 'L' + (px - 3.2) + ' ' + (py + 2.2) + 'Z', fill: '#4460da', opacity: .8});
    
    
  });
  // stars
  starX.forEach(function (sx, i) {
    const px = cieX(sx), py = cieY(starY[i]);
    let d = '';
    for (let k = 0; k < 10; k++) {
      const r = k % 2 ? 2.3 : 5.2, a = -Math.PI / 2 + k * Math.PI / 5;
      d += (k ? 'L' : 'M') + (px + r * Math.cos(a)).toFixed(2) + ' ' + (py + r * Math.sin(a)).toFixed(2);
    }
    const star = mk('path', top, {d: d + 'Z', fill: 'none', stroke: '#1a1a1a', 'stroke-width': .9});
    
    
  });
  // axes
  const axes = mk('path', top, {d: 'M' + cieX(0) + ' ' + cieY(.9) + 'V' + cieY(0) + 'H' + cieX(.8), fill: 'none', stroke: '#444', 'stroke-width': 1});
  
  
  cieXTicks.forEach(function (str) {
    const x = cieX(parseFloat(str));
    const tick = mk('line', top, {x1: x, x2: x, y1: cieY(0), y2: cieY(0) + 3, stroke: '#444', 'stroke-width': 1});
    
    
    const t = label(top, x, 1157.5, str, 12, 'middle', '#222');
    
    
  });
  cieYTicks.forEach(function (str) {
    const y = cieY(parseFloat(str));
    const tick = mk('line', top, {x1: cieX(0) - 3, x2: cieX(0), y1: y, y2: y, stroke: '#444', 'stroke-width': 1});
    
    
    const t = label(top, 392.7, y + 4.4, str, 12, 'end', '#222');
    
    
  });
  const xTitle = label(top, 557, 1167, 'x', 12, 'middle', '#222');
  xTitle.setAttribute('font-style', 'italic');
  
  
  const yTitle = label(top, 367, 983, 'y', 12, 'middle', '#222');
  yTitle.setAttribute('font-style', 'italic');
  
  
  const namePosX = [427,493.3,544.3,593.7,634.3,656.3,675,388.7,409.3,418.7,430.7,438.3,476];
  const namePosY = [833.3,862.7,908.7,958.3,998.3,1020.7,1045.7,949.7,1042.3,1094.7,1121.7,1133.7,1139.3];
  wavelengthNames.forEach(function (str, i) {
    const t = label(top, namePosX[i], namePosY[i] + 3.6, str, 10, 'middle', '#3535cf');
    
    
  });
})();
</script>
</body>
</html>
